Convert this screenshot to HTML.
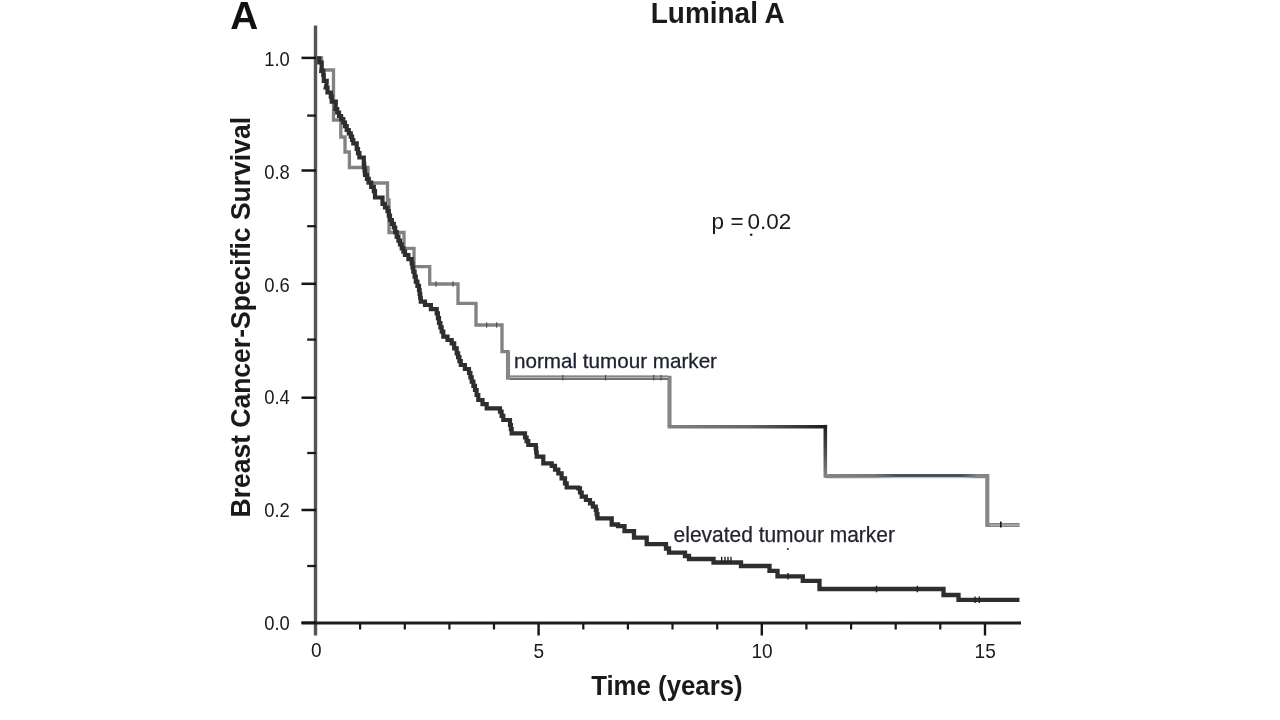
<!DOCTYPE html>
<html><head><meta charset="utf-8"><title>Luminal A</title>
<style>
html,body{margin:0;padding:0;background:#fff;}
body{width:1280px;height:720px;overflow:hidden;}
svg{display:block;}
text{font-family:"Liberation Sans",sans-serif;}
</style></head><body>
<svg width="1280" height="720" viewBox="0 0 1280 720">
<defs>
<linearGradient id="gh" gradientUnits="userSpaceOnUse" x1="669" y1="0" x2="826" y2="0"><stop offset="0" stop-color="#808080"/><stop offset="0.5" stop-color="#666"/><stop offset="1" stop-color="#1c1c1c"/></linearGradient>
<linearGradient id="gv" gradientUnits="userSpaceOnUse" x1="0" y1="425" x2="0" y2="477"><stop offset="0" stop-color="#1c1c1c"/><stop offset="0.6" stop-color="#555"/><stop offset="1" stop-color="#858585"/></linearGradient>
<linearGradient id="gs" gradientUnits="userSpaceOnUse" x1="826" y1="0" x2="986" y2="0"><stop offset="0" stop-color="#868686"/><stop offset="0.3" stop-color="#747678"/><stop offset="0.45" stop-color="#46525c"/><stop offset="0.85" stop-color="#46525c"/><stop offset="0.95" stop-color="#868686"/><stop offset="1" stop-color="#868686"/></linearGradient>
<linearGradient id="gl" gradientUnits="userSpaceOnUse" x1="826" y1="0" x2="986" y2="0"><stop offset="0" stop-color="#868686"/><stop offset="0.3" stop-color="#999"/><stop offset="0.45" stop-color="#c2c6ca"/><stop offset="0.85" stop-color="#c2c6ca"/><stop offset="0.95" stop-color="#868686"/><stop offset="1" stop-color="#868686"/></linearGradient>
</defs>
<rect width="1280" height="720" fill="#fff"/>
<text x="230.3" y="29.3" font-size="39.3" font-weight="bold" fill="#111" textLength="28" lengthAdjust="spacingAndGlyphs">A</text>
<text x="717.8" y="23.4" text-anchor="middle" font-size="28.9" font-weight="bold" fill="#1a1a1a" textLength="134" lengthAdjust="spacingAndGlyphs">Luminal A</text>
<text transform="translate(250,517.5) rotate(-90)" font-size="27.6" font-weight="bold" fill="#1a1a1a" textLength="400.5" lengthAdjust="spacingAndGlyphs">Breast Cancer-Specific Survival</text>
<text x="666.9" y="694.5" text-anchor="middle" font-size="27.2" font-weight="bold" fill="#1a1a1a" textLength="151.5" lengthAdjust="spacingAndGlyphs">Time (years)</text>
<text x="289.8" y="65.9" text-anchor="end" font-size="21" fill="#1a1a1a" textLength="25.6" lengthAdjust="spacingAndGlyphs">1.0</text><text x="289.8" y="178.5" text-anchor="end" font-size="21" fill="#1a1a1a" textLength="25.6" lengthAdjust="spacingAndGlyphs">0.8</text><text x="289.8" y="291.8" text-anchor="end" font-size="21" fill="#1a1a1a" textLength="25.6" lengthAdjust="spacingAndGlyphs">0.6</text><text x="289.8" y="403.8" text-anchor="end" font-size="21" fill="#1a1a1a" textLength="25.6" lengthAdjust="spacingAndGlyphs">0.4</text><text x="289.8" y="516.9" text-anchor="end" font-size="21" fill="#1a1a1a" textLength="25.6" lengthAdjust="spacingAndGlyphs">0.2</text><text x="289.8" y="629.5" text-anchor="end" font-size="21" fill="#1a1a1a" textLength="25.6" lengthAdjust="spacingAndGlyphs">0.0</text>
<text x="316.3" y="657.4" text-anchor="middle" font-size="21" fill="#1a1a1a" textLength="10.6" lengthAdjust="spacingAndGlyphs">0</text><text x="538.9" y="658.2" text-anchor="middle" font-size="21" fill="#1a1a1a" textLength="10.6" lengthAdjust="spacingAndGlyphs">5</text><text x="762.0" y="658.2" text-anchor="middle" font-size="21" fill="#1a1a1a" textLength="21.2" lengthAdjust="spacingAndGlyphs">10</text><text x="985.2" y="658.2" text-anchor="middle" font-size="21" fill="#1a1a1a" textLength="21.2" lengthAdjust="spacingAndGlyphs">15</text>
<g fill="none" stroke-linejoin="miter">
<path d="M315.5,58.0 L321.5,58.0 L321.5,70.0 L333.5,70.0 L333.5,120.0 L340.8,120.0 L340.8,137.0 L345.0,137.0 L345.0,152.0 L349.4,152.0 L349.4,167.5 L368.0,167.5 L368.0,183.0 L387.5,183.0 L387.5,200.0 L389.0,200.0 L389.0,232.5 L404.0,232.5 L404.0,248.3 L414.0,248.3 L414.0,266.7 L429.7,266.7 L429.7,284.0 L458.0,284.0 L458.0,303.3 L476.0,303.3 L476.0,325.0 L502.0,325.0 L502.0,351.7 L508.0,351.7 L508.0,377.7" stroke="#828282" stroke-width="3.3"/>
<path d="M508.0,351.7 L508.0,377.7 L669.5,377.7 L669.5,426.7" stroke="#868686" stroke-width="4.1"/>
<path d="M669.5,426.7 L825.3,426.7" stroke="url(#gh)" stroke-width="3.6" stroke-linecap="square"/>
<path d="M825.3,426.7 L825.3,476.0" stroke="url(#gv)" stroke-width="3.6" stroke-linecap="square"/>
<path d="M825.3,476.0 L987.3,476.0 L987.3,525.0 L1019.5,525.0" stroke="#868686" stroke-width="4.1"/>
<line x1="510" x2="668" y1="377.5" y2="377.5" stroke="#b6babe" stroke-width="1.4"/>
<line x1="510" x2="668" y1="379.1" y2="379.1" stroke="#5e5e5e" stroke-width="1.3"/>
<line x1="510" x2="668" y1="376.1" y2="376.1" stroke="#7c8289" stroke-width="1.1"/>
<line x1="826" x2="986" y1="476" y2="476" stroke="url(#gs)" stroke-width="4.1"/>
<line x1="826" x2="986" y1="477.6" y2="477.6" stroke="url(#gl)" stroke-width="1.4"/>
<line x1="990" x2="1019.5" y1="525.1" y2="525.1" stroke="#b4b6b8" stroke-width="1.2"/>
<path d="M316.0,58.3 L319.2,58.3 L319.2,62.5 L321.7,62.5 L321.7,66.7 L321.3,70.8 L323.3,70.8 L323.3,75.0 L323.8,75.0 L323.8,80.8 L326.7,80.8 L326.7,83.3 L325.8,87.5 L327.5,87.5 L327.5,92.5 L330.8,92.5 L330.8,96.7 L331.7,96.7 L331.7,101.7 L335.8,101.7 L335.8,104.0 L335.4,109.0 L337.2,109.0 L337.2,112.5 L339.0,112.5 L339.0,116.0 L341.1,116.0 L341.1,119.2 L343.3,119.2 L343.3,122.5 L345.0,122.5 L345.0,126.2 L346.7,126.2 L346.7,130.0 L348.8,130.0 L348.8,133.3 L350.8,133.3 L350.8,136.7 L352.1,136.7 L352.1,140.0 L353.3,140.0 L353.3,143.3 L356.7,143.3 L356.7,149.0 L358.0,149.0 L358.0,153.2 L359.4,153.2 L359.4,157.5 L363.8,157.5 L363.8,163.8 L364.2,163.8 L364.2,167.5 L364.6,167.5 L364.6,171.2 L365.0,171.2 L365.0,175.0 L366.9,175.0 L366.9,178.8 L368.8,178.8 L368.8,182.5 L371.2,182.5 L371.2,186.9 L373.8,186.9 L373.8,191.2 L375.0,191.2 L375.0,197.5 L382.5,197.5 L382.5,203.8 L385.0,203.8 L385.0,207.5 L387.5,207.5 L387.5,211.2 L388.8,211.2 L388.8,215.6 L390.0,215.6 L390.0,220.0 L391.9,220.0 L391.9,223.8 L393.8,223.8 L393.8,227.5 L395.2,227.5 L395.2,232.1 L396.7,232.1 L396.7,236.7 L398.4,236.7 L398.4,240.6 L400.0,240.6 L400.0,244.4 L401.7,244.4 L401.7,248.3 L403.4,248.3 L403.4,251.7 L405.0,251.7 L405.0,255.0 L408.4,255.0 L408.4,259.1 L411.7,259.1 L411.7,263.3 L412.5,263.3 L412.5,267.5 L413.3,267.5 L413.3,271.7 L414.6,271.7 L414.6,276.7 L415.8,276.7 L415.8,281.7 L417.4,281.7 L417.4,285.9 L419.0,285.9 L419.0,290.0 L419.6,290.0 L419.6,293.9 L420.2,293.9 L420.2,297.8 L420.8,297.8 L420.8,301.7 L425.0,301.7 L425.0,305.0 L430.9,305.0 L430.9,309.1 L436.7,309.1 L436.7,313.3 L437.9,313.3 L437.9,318.1 L439.0,318.1 L439.0,323.0 L440.4,323.0 L440.4,327.4 L441.7,327.4 L441.7,331.7 L443.3,331.7 L443.3,336.7 L447.5,336.7 L447.5,340.0 L451.7,340.0 L451.7,343.3 L454.2,343.3 L454.2,348.3 L456.7,348.3 L456.7,353.3 L458.1,353.3 L458.1,357.2 L459.4,357.2 L459.4,361.1 L460.8,361.1 L460.8,365.0 L464.9,365.0 L464.9,369.0 L469.0,369.0 L469.0,373.0 L470.4,373.0 L470.4,377.4 L471.7,377.4 L471.7,381.7 L473.4,381.7 L473.4,385.9 L475.0,385.9 L475.0,390.0 L476.6,390.0 L476.6,395.0 L478.3,395.0 L478.3,400.0 L482.5,400.0 L482.5,404.1 L486.7,404.1 L486.7,408.3 L500.0,408.3 L500.0,411.7 L501.6,411.7 L501.6,415.9 L503.3,415.9 L503.3,420.0 L510.0,420.0 L510.0,425.0 L510.9,425.0 L510.9,429.1 L511.7,429.1 L511.7,433.3 L525.0,433.3 L525.0,437.5 L526.6,437.5 L526.6,441.2 L528.3,441.2 L528.3,445.0 L535.8,445.0 L535.8,448.3 L536.2,448.3 L536.2,452.5 L536.7,452.5 L536.7,456.7 L543.3,456.7 L543.3,458.3 L543.3,463.3 L551.7,463.3 L551.7,465.8 L555.0,465.8 L555.0,469.6 L558.3,469.6 L558.3,473.3 L561.6,473.3 L561.6,478.3 L565.0,478.3 L565.0,483.3 L566.7,483.3 L566.7,487.5 L578.3,487.5 L578.3,488.3 L580.0,488.3 L580.0,492.5 L581.7,492.5 L581.7,496.7 L585.9,496.7 L585.9,500.0 L590.0,500.0 L590.0,503.3 L592.9,503.3 L592.9,506.6 L595.8,506.6 L595.8,510.0 L596.6,510.0 L596.6,514.1 L597.5,514.1 L597.5,518.3" stroke="#2e2e2e" stroke-width="4.2" stroke-linejoin="miter"/>
<path d="M597.5,518.3 L597.5,518.3 L611.7,518.3 L611.7,524.5 L618.0,524.5 L618.0,526.2 L624.5,526.2 L624.5,531.2 L634.0,531.2 L634.0,537.7 L646.7,537.7 L646.7,544.2 L666.0,544.2 L666.0,548.5 L669.0,548.5 L669.0,552.7 L685.0,552.7 L685.0,556.0 L689.0,556.0 L689.0,559.0 L713.5,559.0 L713.5,562.5 L741.0,562.5 L741.0,566.0 L769.5,566.0 L769.5,570.8 L777.5,570.8 L777.5,576.3 L802.8,576.3 L802.8,580.8 L819.5,580.8 L819.5,589.0 L943.5,589.0 L943.5,595.0 L958.5,595.0 L958.5,599.8 L1017.3,599.8" stroke="#2e2e2e" stroke-width="4.3" stroke-linejoin="miter" stroke-linecap="square"/>
</g>
<line x1="436" x2="436" y1="281.2" y2="286.8" stroke="#444" stroke-width="1"/><line x1="453" x2="453" y1="281.2" y2="286.8" stroke="#444" stroke-width="1"/><line x1="486.7" x2="486.7" y1="322.2" y2="327.8" stroke="#444" stroke-width="1"/><line x1="496.7" x2="496.7" y1="322.2" y2="327.8" stroke="#444" stroke-width="1"/><line x1="562.8" x2="562.8" y1="374.9" y2="380.5" stroke="#444" stroke-width="1"/><line x1="605.6" x2="605.6" y1="374.9" y2="380.5" stroke="#444" stroke-width="1"/><line x1="653.8" x2="653.8" y1="374.9" y2="380.5" stroke="#444" stroke-width="1"/><line x1="661" x2="661" y1="374.9" y2="380.5" stroke="#444" stroke-width="1"/><line x1="1000.8" x2="1000.8" y1="521.6" y2="527.6" stroke="#151515" stroke-width="1.6"/><line x1="788" x2="788" y1="573.0" y2="579.5999999999999" stroke="#222" stroke-width="1.4"/><line x1="876.5" x2="876.5" y1="585.7" y2="592.3" stroke="#222" stroke-width="1.4"/><line x1="917.3" x2="917.3" y1="585.7" y2="592.3" stroke="#222" stroke-width="1.4"/><line x1="975" x2="975" y1="596.5" y2="603.0999999999999" stroke="#222" stroke-width="1.4"/><line x1="979.3" x2="979.3" y1="596.5" y2="603.0999999999999" stroke="#222" stroke-width="1.4"/><line x1="721.7" x2="721.7" y1="556.7" y2="563.3" stroke="#222" stroke-width="1.4"/><line x1="725" x2="725" y1="556.7" y2="563.3" stroke="#222" stroke-width="1.4"/><line x1="728" x2="728" y1="556.7" y2="563.3" stroke="#222" stroke-width="1.4"/><line x1="731" x2="731" y1="556.7" y2="563.3" stroke="#222" stroke-width="1.4"/>
<line x1="315.5" x2="315.5" y1="25.5" y2="635.5" stroke="#575255" stroke-width="3.4"/>
<line x1="301.5" x2="1021" y1="623" y2="623" stroke="#1c1e20" stroke-width="2.8"/>
<line x1="301.5" x2="316" y1="57.9" y2="57.9" stroke="#151515" stroke-width="2.5"/><line x1="301.5" x2="316" y1="170.5" y2="170.5" stroke="#151515" stroke-width="2.5"/><line x1="301.5" x2="316" y1="283.8" y2="283.8" stroke="#151515" stroke-width="2.5"/><line x1="301.5" x2="316" y1="397.7" y2="397.7" stroke="#151515" stroke-width="2.5"/><line x1="301.5" x2="316" y1="510" y2="510" stroke="#151515" stroke-width="2.5"/><line x1="301.5" x2="316" y1="622.8" y2="622.8" stroke="#151515" stroke-width="2.5"/><line x1="307.2" x2="316" y1="115.6" y2="115.6" stroke="#1c1c1c" stroke-width="2.3"/><line x1="307.2" x2="316" y1="226.2" y2="226.2" stroke="#1c1c1c" stroke-width="2.3"/><line x1="307.2" x2="316" y1="339.6" y2="339.6" stroke="#1c1c1c" stroke-width="2.3"/><line x1="307.2" x2="316" y1="453" y2="453" stroke="#1c1c1c" stroke-width="2.3"/><line x1="307.2" x2="316" y1="566" y2="566" stroke="#1c1c1c" stroke-width="2.3"/><line x1="360.1" x2="360.1" y1="623" y2="629.5" stroke="#151515" stroke-width="2.2"/><line x1="404.8" x2="404.8" y1="623" y2="629.5" stroke="#151515" stroke-width="2.2"/><line x1="449.4" x2="449.4" y1="623" y2="629.5" stroke="#151515" stroke-width="2.2"/><line x1="494.0" x2="494.0" y1="623" y2="629.5" stroke="#151515" stroke-width="2.2"/><line x1="538.6" x2="538.6" y1="623" y2="635.5" stroke="#151515" stroke-width="2.4"/><line x1="583.3" x2="583.3" y1="623" y2="629.5" stroke="#151515" stroke-width="2.2"/><line x1="627.9" x2="627.9" y1="623" y2="629.5" stroke="#151515" stroke-width="2.2"/><line x1="672.5" x2="672.5" y1="623" y2="629.5" stroke="#151515" stroke-width="2.2"/><line x1="717.2" x2="717.2" y1="623" y2="629.5" stroke="#151515" stroke-width="2.2"/><line x1="761.8" x2="761.8" y1="623" y2="635.5" stroke="#151515" stroke-width="2.4"/><line x1="806.4" x2="806.4" y1="623" y2="629.5" stroke="#151515" stroke-width="2.2"/><line x1="851.1" x2="851.1" y1="623" y2="629.5" stroke="#151515" stroke-width="2.2"/><line x1="895.7" x2="895.7" y1="623" y2="629.5" stroke="#151515" stroke-width="2.2"/><line x1="940.3" x2="940.3" y1="623" y2="629.5" stroke="#151515" stroke-width="2.2"/><line x1="985.0" x2="985.0" y1="623" y2="635.5" stroke="#151515" stroke-width="2.4"/>
<text x="514" y="367.7" font-size="20.7" fill="#1d2230" stroke="#1d2230" stroke-width="0.3" textLength="203" lengthAdjust="spacingAndGlyphs">normal tumour marker</text>
<text x="673.6" y="541.9" font-size="21.2" fill="#23252c" stroke="#23252c" stroke-width="0.25" textLength="221.3" lengthAdjust="spacingAndGlyphs">elevated tumour marker</text>
<text x="711.6" y="228.5" dx="0 0 0 0 -2.3" font-size="22.5" fill="#1a1a1a">p = 0.02</text>
<circle cx="751.2" cy="234.8" r="1.3" fill="#222"/>
<circle cx="787.8" cy="549" r="1" fill="#222"/>
</svg>
</body></html>
